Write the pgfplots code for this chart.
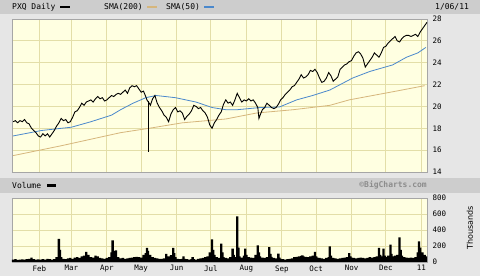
\documentclass[border=0pt]{standalone}
\usepackage{pgfplots}
\pgfplotsset{compat=1.18}
\usepackage{fontspec}
\setmainfont{DejaVu Sans}
\setmonofont{DejaVu Sans Mono}
\definecolor{outerbg}{HTML}{E6E6E6}
\definecolor{hdrbg}{HTML}{CDCDCD}
\definecolor{plotbg}{HTML}{FFFFE1}
\definecolor{gridc}{HTML}{E3DEA8}
\definecolor{smatan}{HTML}{D6B67C}
\definecolor{smablue}{HTML}{4A88CC}
\newcommand{\hdrfont}{\ttfamily\fontsize{8}{8}\selectfont}
\newcommand{\tickfont}{\ttfamily\fontsize{7.5}{7.5}\selectfont}
\begin{document}
\begin{tikzpicture}
\fill[outerbg] (0pt,0pt) rectangle (480pt,276pt);
\fill[hdrbg] (0pt,262pt) rectangle (480pt,276pt);
\fill[hdrbg] (0pt,83pt) rectangle (480pt,98pt);
\node[anchor=west,inner sep=0,font=\hdrfont] at (12pt,269pt) {PXQ Daily};
\node[anchor=west,inner sep=0] at (60pt,269pt) {\rule{10pt}{2.5pt}};
\node[anchor=west,inner sep=0,font=\hdrfont] at (104pt,269pt) {SMA(200)};
\node[anchor=west,inner sep=0] at (147pt,269pt) {\textcolor{smatan}{\rule{10pt}{2.5pt}}};
\node[anchor=west,inner sep=0,font=\hdrfont] at (166pt,269pt) {SMA(50)};
\node[anchor=west,inner sep=0] at (204pt,269pt) {\textcolor{smablue}{\rule{10pt}{2.5pt}}};
\node[anchor=west,inner sep=0,font=\hdrfont] at (435pt,269pt) {1/06/11};
\node[anchor=west,inner sep=0,font=\hdrfont] at (12pt,90.5pt) {Volume};
\node[anchor=west,inner sep=0] at (47pt,90.5pt) {\rule{9pt}{2.5pt}};
\node[anchor=east,inner sep=0,font=\ttfamily\bfseries\fontsize{8}{8}\selectfont,text=black!45] at (427pt,90.5pt) {©BigCharts.com};
\node[rotate=90,inner sep=0,font=\fontsize{8}{8}\selectfont] at (470pt,48pt) {Thousands};

\begin{axis}[at={(12pt,104pt)}, anchor=south west, scale only axis,
  width=415pt, height=153pt, xmin=7, xmax=370, ymin=14, ymax=28,
  axis background/.style={fill=plotbg},
  grid=major, major grid style={gridc, line width=0.9pt},
  xtick={31,59,90,120,151,181,212,243,273,304,334,365}, xticklabels={,,,,,,,,,,,},
  ytick={14,16,...,28}, yticklabel pos=right,
  tick style={draw=none}, axis line style={draw=black!35},
  /pgf/number format/assume math mode=true,
  yticklabel style={font=\tickfont, anchor=west, xshift=2pt}]
\addplot[smatan, line width=0.8pt] coordinates {
(8,15.5)(50,16.4)(102,17.6)(127,18.0)(156,18.5)(194,18.85)(221,19.4)(253,19.7)(285,20.1)(302,20.6)(343,21.4)(368,21.9)};
\addplot[smablue, line width=0.8pt] coordinates {
(8,17.3)(33,17.8)(59,18.1)(76,18.6)(94,19.2)(102,19.7)(113,20.3)(124,20.8)(133,21.0)(150,20.8)(168,20.4)(182,19.9)(194,19.7)(204,19.7)(224,19.9)(241,19.95)(256,20.6)(270,21.0)(285,21.5)(305,22.6)(320,23.2)(340,23.8)(352,24.5)(362,24.9)(369,25.4)};
\addplot[black, line width=0.8pt] coordinates {(126,20.5)(126,15.8)};
\addplot[black, line width=0.9pt] coordinates {
(8,18.6)(10,18.7)(12,18.5)(14,18.7)(16,18.6)(18,18.8)(20,18.5)(22,18.4)(24,18.0)(26,17.8)
(28,17.6)(30,17.3)(32,17.2)(34,17.5)(36,17.3)(38,17.5)(40,17.2)(42,17.5)(44,17.8)(46,18.2)
(48,18.5)(50,18.9)(52,18.7)(54,18.8)(56,18.5)(58,18.6)(60,19.0)(62,19.5)(64,19.6)(66,19.9)
(68,20.3)(70,20.1)(72,20.4)(74,20.5)(76,20.6)(78,20.4)(80,20.7)(82,20.9)(84,20.7)(86,20.8)
(88,20.5)(90,20.6)(92,20.8)(94,21.0)(96,20.9)(98,21.1)(100,21.2)(102,21.1)(104,21.3)(106,21.5)
(108,21.2)(110,21.7)(112,21.9)(114,21.8)(116,21.9)(118,21.6)(120,21.3)(122,21.4)(124,20.9)(125,20.6)
(127,20.3)(128,20.1)(130,20.7)(132,21.0)(134,20.3)(136,19.9)(138,19.6)(140,19.2)(142,19.0)(144,18.6)
(146,19.3)(148,19.7)(150,19.9)(152,19.5)(154,19.6)(156,19.4)(158,18.8)(160,19.1)(162,19.3)(164,19.6)
(166,20.1)(168,20.0)(170,19.8)(172,19.9)(174,19.6)(176,19.4)(178,19.0)(180,18.3)(182,18.0)(184,18.5)
(186,18.8)(188,19.2)(190,19.5)(192,20.2)(194,20.6)(196,20.3)(198,20.4)(200,20.1)(202,20.6)(204,21.2)
(206,20.8)(208,20.4)(210,20.6)(212,20.5)(214,20.7)(216,20.5)(218,20.6)(220,20.3)(222,19.9)(223,18.9)
(224,19.2)(226,19.7)(228,19.9)(230,20.3)(232,20.1)(234,19.9)(236,19.8)(238,19.9)(240,20.2)(242,20.6)
(244,20.8)(246,21.1)(248,21.3)(250,21.5)(252,21.8)(254,21.9)(256,22.2)(258,22.5)(260,22.9)(262,22.6)
(264,22.7)(266,22.9)(268,23.3)(270,23.2)(272,23.4)(274,23.1)(276,22.6)(278,22.2)(280,22.3)(282,22.6)
(284,23.1)(286,22.8)(288,22.3)(290,22.5)(292,22.7)(294,23.4)(296,23.6)(298,23.8)(300,23.9)(302,24.1)
(304,24.2)(306,24.6)(308,24.9)(310,25.0)(312,24.8)(314,24.4)(316,23.6)(318,23.9)(320,24.2)(322,24.5)
(324,24.9)(326,24.7)(328,24.5)(330,24.9)(332,25.4)(334,25.5)(336,25.8)(338,26.0)(340,26.2)(342,26.4)
(344,26.0)(346,25.9)(348,26.2)(350,26.4)(352,26.5)(354,26.5)(356,26.4)(358,26.5)(360,26.6)(362,26.4)
(364,26.8)(366,27.1)(368,27.4)(370,27.7)};
\end{axis}

\begin{axis}[at={(12pt,14pt)}, anchor=south west, scale only axis,
  width=415pt, height=64pt, xmin=7, xmax=370, ymin=0, ymax=800,
  axis background/.style={fill=plotbg},
  grid=major, major grid style={gridc, line width=0.9pt},
  xtick={31,59,90,120,151,181,212,243,273,304,334,365},
  xticklabels={Feb,Mar,Apr,May,Jun,Jul,Aug,Sep,Oct,Nov,Dec,11},
  ytick={0,200,...,800}, yticklabel pos=right, scaled y ticks=false,
  tick style={draw=none}, axis line style={draw=black!35},
  /pgf/number format/assume math mode=true,
  yticklabel style={font=\tickfont, anchor=west, xshift=2pt},
  xticklabel style={font=\tickfont}]
\addplot[ybar, bar width=2.3pt, fill=black, draw=none] coordinates {
(8,30)(10,35)(12,28)(14,30)(16,32)(18,30)(20,35)(22,40)(24,55)(26,35)(28,30)(30,32)(32,30)(34,35)(36,30)
(38,40)(40,35)(42,30)(44,35)(46,60)(48,290)(49,150)(50,60)(52,40)(54,35)(56,45)(58,50)(60,40)(62,55)(64,60)
(66,50)(68,70)(70,80)(72,125)(74,90)(76,60)(78,55)(80,80)(82,70)(84,50)(86,45)(88,40)(90,50)(92,60)(94,120)
(95,270)(96,140)(98,145)(100,60)(102,45)(104,50)(106,40)(108,45)(110,50)(112,55)(114,60)(116,65)(118,60)(120,55)
(122,90)(124,110)(125,175)(126,140)(128,90)(130,60)(132,50)(134,45)(136,40)(138,40)(140,45)(142,100)(144,70)
(146,85)(148,175)(149,110)(150,60)(152,40)(154,35)(156,40)(157,70)(158,40)(160,35)(162,30)(164,35)(165,60)
(166,35)(168,30)(170,40)(172,45)(174,50)(176,60)(178,70)(180,120)(182,283)(183,150)(184,90)(186,60)(188,50)
(190,230)(191,120)(192,60)(194,50)(196,45)(198,60)(200,167)(201,90)(202,60)(204,571)(205,180)(206,70)(208,55)
(210,80)(211,167)(212,90)(214,60)(216,55)(218,50)(220,90)(222,208)(223,120)(224,70)(226,55)(228,50)(230,60)
(232,187)(233,100)(234,65)(236,50)(238,45)(240,104)(241,55)(242,40)(244,35)(246,30)(248,35)(250,40)(252,45)
(254,60)(256,65)(258,70)(260,75)(261,83)(262,70)(264,65)(266,60)(268,70)(270,80)(272,125)(273,70)(274,55)
(276,50)(278,45)(280,40)(282,50)(284,60)(285,196)(286,80)(288,50)(290,45)(292,40)(294,45)(296,50)(298,55)
(300,60)(302,112)(303,70)(304,55)(306,50)(308,45)(310,50)(312,55)(314,50)(316,45)(318,50)(320,60)(322,55)
(324,60)(326,70)(328,175)(329,90)(330,70)(332,167)(333,80)(334,60)(336,80)(338,217)(339,100)(340,70)(342,80)
(344,90)(346,308)(347,150)(348,80)(350,60)(352,55)(354,50)(356,55)(358,50)(360,60)(362,120)(363,258)(364,180)
(366,120)(368,90)(370,70)};
\end{axis}
\pgfresetboundingbox
\useasboundingbox (0pt,0pt) rectangle (480pt,276pt);
\end{tikzpicture}
\end{document}
